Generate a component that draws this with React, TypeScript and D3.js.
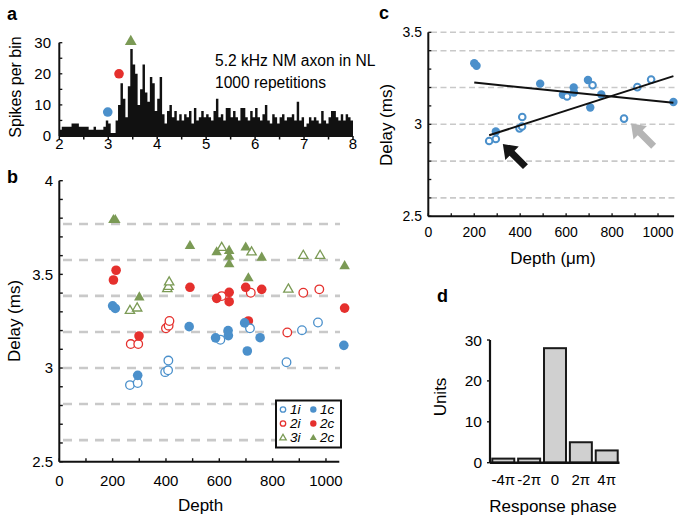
import React from "react";
import * as d3 from "d3";

// ---------- DATA ----------
// Panel a: PSTH, 0.05 ms bins from 2 to 8 ms
const binStart = 2;
const binWidth = 0.05;
const spikeCounts = [
  2, 3, 3, 3, 3, 4, 4, 4, 3, 3,
  3, 3, 2, 2, 3, 2, 2, 2, 3, 5,
  4, 1, 1, 5, 10, 17, 12, 6, 16, 28,
  23, 20, 10, 15, 23, 14, 11, 19, 17, 8,
  12, 19, 7, 4, 8, 10, 6, 8, 5, 7,
  5, 7, 6, 8, 4, 9, 5, 6, 8, 6,
  7, 6, 5, 8, 12, 6, 7, 5, 9, 9,
  6, 8, 6, 5, 9, 9, 6, 5, 8, 6,
  9, 6, 5, 7, 10, 5, 4, 7, 6, 4,
  6, 7, 5, 6, 6, 7, 5, 11, 5, 6,
  3, 4, 6, 5, 6, 5, 4, 8, 5, 4,
  6, 8, 8, 6, 5, 7, 5, 7, 6, 5,
];
const peakTimes = [2.99, 3.22, 3.46];
const peakHeights = [7.7, 20, 30.7];
const peakKinds = ["1", "2", "3"];
const aXTickLabels = [2, 3, 4, 5, 6, 7, 8];
const aYTickLabels = [0, 10, 20, 30];

// Panel b / c: delay vs depth
const blueFilledDepth = [200, 210, 294, 487, 586, 633, 634, 695, 705, 753, 1067];
const blueFilledDelay = [3.332, 3.318, 2.961, 3.221, 3.161, 3.2, 3.173, 3.241, 3.091, 3.162, 3.121];
const blueOpenDepth = [265, 294, 397, 408, 409, 604, 715, 852, 910, 970];
const blueOpenDelay = [2.909, 2.92, 2.978, 2.988, 3.04, 3.151, 3.212, 3.031, 3.202, 3.243];

const redFilledDepth = [203, 213, 299, 490, 590, 637, 637, 699, 709, 759, 1070];
const redFilledDelay = [3.47, 3.522, 3.171, 3.431, 3.372, 3.404, 3.354, 3.431, 3.251, 3.42, 3.32];
const redOpenDepth = [268, 296, 400, 410, 413, 609, 718, 855, 915, 975];
const redOpenDelay = [3.128, 3.128, 3.212, 3.226, 3.251, 3.384, 3.402, 3.19, 3.402, 3.42];

const greenFilledDepth = [203, 210, 300, 490, 590, 637, 637, 637, 699, 709, 759, 1070];
const greenFilledDelay = [3.79, 3.79, 3.377, 3.651, 3.618, 3.625, 3.594, 3.554, 3.643, 3.479, 3.589, 3.544];
const greenOpenDepth = [265, 292, 405, 409, 412, 609, 721, 859, 915, 978];
const greenOpenDelay = [3.306, 3.319, 3.422, 3.434, 3.458, 3.642, 3.618, 3.42, 3.6, 3.6];

const bGridDelays = [2.615, 2.808, 3.0, 3.192, 3.385, 3.577, 3.769];
const cGridDelays = [2.6, 2.8, 3.0, 3.2, 3.4, 3.5];
const depthTickLabels = [0, 200, 400, 600, 800, 1000];
const bYTickLabels = [2.5, 3, 3.5, 4];
const cYTickLabels = [2.5, 3, 3.5];

const legendRows = [
  { open: "1i", filled: "1c" },
  { open: "2i", filled: "2c" },
  { open: "3i", filled: "2c" },
];

// arrows in panel c point at two open-circle units
const arrowTargetDepth = [294, 852];
const arrowTargetDelay = [2.92, 3.031];

// Panel d
const phaseLabels = ["-4π", "-2π", "0", "2π", "4π"];
const phaseUnits = [1, 1, 28, 5, 3];
const dYTickLabels = [0, 10, 20, 30];

// ---------- STYLE ----------
const BLUE = "#4b90cb";
const RED = "#e5302d";
const GREEN = "#7b9a55";
const FONT = "'Liberation Sans', Arial, Helvetica, sans-serif";

const zip = (xs: number[], ys: number[]) => xs.map((x, i) => ({ x, y: ys[i] }));

function regression(xs: number[], ys: number[]) {
  const mx = d3.mean(xs)!;
  const my = d3.mean(ys)!;
  let sxy = 0, sxx = 0;
  xs.forEach((x, i) => {
    sxy += (x - mx) * (ys[i] - my);
    sxx += (x - mx) * (x - mx);
  });
  const b = sxy / sxx;
  return (x: number) => my + b * (x - mx);
}

function arrowPath(len: number, sw: number, hw: number, hl: number) {
  return `M0,${-sw / 2}L${len - hl},${-sw / 2}L${len - hl},${-hw / 2}L${len},0L${len - hl},${hw / 2}L${len - hl},${sw / 2}L0,${sw / 2}Z`;
}

const tri = (s: number) => d3.symbol(d3.symbolTriangle, s)()!;

function Marker({ kind, filled, cx, cy, color, small }: any) {
  if (kind === "tri") {
    return filled ? (
      <path d={tri(small ? 22 : 48)} transform={`translate(${cx},${cy})`} fill={color} />
    ) : (
      <path d={tri(small ? 18 : 38)} transform={`translate(${cx},${cy})`} fill="white" stroke={color} strokeWidth={1.3} />
    );
  }
  return filled ? (
    <circle cx={cx} cy={cy} r={small ? 3.2 : 4.8} fill={color} />
  ) : (
    <circle cx={cx} cy={cy} r={small ? 2.7 : 4.3} fill="white" stroke={color} strokeWidth={1.3} />
  );
}

export default function App() {
  // ----- Panel a scales -----
  const xA = d3.scaleLinear().domain([2, 8]).range([59.3, 353]);
  const yA = d3.scaleLinear().domain([0, 30]).range([136, 42.7]);
  const histPts = spikeCounts.map((v, i) => ({ t: binStart + i * binWidth, v }));
  histPts.push({ t: binStart + spikeCounts.length * binWidth, v: spikeCounts[spikeCounts.length - 1] });
  const histArea = d3
    .area<{ t: number; v: number }>()
    .x((d) => xA(d.t))
    .y0(yA(0))
    .y1((d) => yA(d.v))
    .curve(d3.curveStepAfter)(histPts)!;
  const peakColors = [BLUE, RED, GREEN];

  // ----- Panel b scales -----
  const xB = d3.scaleLinear().domain([0, 1050]).range([59.3, 339.3]);
  const yB = d3.scaleLinear().domain([2.5, 4]).range([461.7, 180.7]);

  // ----- Panel c scales -----
  const xC = d3.scaleLinear().domain([0, 1070]).range([428.3, 674.1]);
  const yC = d3.scaleLinear().domain([2.5, 3.5]).range([216.3, 32.3]);
  const fitFilled = regression(blueFilledDepth, blueFilledDelay);
  const fitOpen = regression(blueOpenDepth, blueOpenDelay);
  const maxDepth = d3.max([...blueFilledDepth, ...blueOpenDepth])!;
  const fitLines = [
    { f: fitFilled, x0: d3.min(blueFilledDepth)!, x1: maxDepth },
    { f: fitOpen, x0: d3.min(blueOpenDepth)!, x1: maxDepth },
  ];
  const arrowColors = ["#151515", "#b5b5b5"];

  // ----- Panel d scales -----
  const xD = d3.scaleBand<string>().domain(phaseLabels).range([491, 619]).paddingInner(0.15).paddingOuter(0.05);
  const yD = d3.scaleLinear().domain([0, 30]).range([462.7, 340]);

  const bSeries = [
    { data: zip(greenOpenDepth, greenOpenDelay), kind: "tri", filled: false, color: GREEN },
    { data: zip(greenFilledDepth, greenFilledDelay), kind: "tri", filled: true, color: GREEN },
    { data: zip(redOpenDepth, redOpenDelay), kind: "circ", filled: false, color: RED },
    { data: zip(redFilledDepth, redFilledDelay), kind: "circ", filled: true, color: RED },
    { data: zip(blueOpenDepth, blueOpenDelay), kind: "circ", filled: false, color: BLUE },
    { data: zip(blueFilledDepth, blueFilledDelay), kind: "circ", filled: true, color: BLUE },
  ];
  const legendColors = [BLUE, RED, GREEN];

  const fmt = (v: number) => String(v);

  return (
    <svg
      width={685}
      height={517}
      viewBox="0 0 685 517"
      style={{ position: "absolute", left: 0, top: 0, background: "white" }}
      fontFamily={FONT}
    >
      <rect x={0} y={0} width={685} height={517} fill="white" />

      {/* ================= Panel a ================= */}
      <text x={7} y={20} fontSize={18} fontWeight="bold">a</text>
      <path d={histArea} fill="#111" />
      <line x1={xA(2)} x2={xA(8)} y1={yA(0)} y2={yA(0)} stroke="#111" strokeWidth={2} />
      {d3.range(2, 8.001, 0.5).map((t) => (
        <line key={t} x1={xA(t)} x2={xA(t)} y1={yA(0)} y2={yA(0) + 3.5} stroke="#111" strokeWidth={1.5} />
      ))}
      {aXTickLabels.map((t) => (
        <text key={t} x={xA(t)} y={148.5} fontSize={15} textAnchor="middle">{t}</text>
      ))}
      <line x1={xA(2)} x2={xA(2)} y1={yA(0)} y2={yA(30)} stroke="#111" strokeWidth={2} />
      {d3.range(0, 30.001, 5).map((v) => (
        <line key={v} x1={xA(2)} x2={xA(2) + 3} y1={yA(v)} y2={yA(v)} stroke="#111" strokeWidth={1.3} />
      ))}
      {aYTickLabels.map((v) => (
        <text key={v} x={51} y={yA(v) + 5.3} fontSize={15} textAnchor="end">{v}</text>
      ))}
      <text transform={`translate(21,87) rotate(-90)`} fontSize={16} textAnchor="middle">Spikes per bin</text>
      {peakTimes.map((t, i) =>
        peakKinds[i] === "3" ? (
          <path key={i} d={tri(60)} transform={`translate(${xA(t)},${yA(peakHeights[i]) + 1})`} fill={peakColors[i]} />
        ) : (
          <circle key={i} cx={xA(t)} cy={yA(peakHeights[i])} r={4.8} fill={peakColors[i]} />
        )
      )}
      <text x={215} y={66} fontSize={15.6}>5.2 kHz NM axon in NL</text>
      <text x={215} y={88} fontSize={15.6}>1000 repetitions</text>

      {/* ================= Panel b ================= */}
      <text x={7} y={183} fontSize={18} fontWeight="bold">b</text>
      {bGridDelays.map((v) => (
        <line key={v} x1={63} x2={340} y1={yB(v)} y2={yB(v)} stroke="#c9c9c9" strokeWidth={2.6} strokeDasharray="9 7" />
      ))}
      <line x1={xB(0)} x2={xB(0)} y1={yB(2.5)} y2={yB(4)} stroke="#111" strokeWidth={2} />
      <line x1={xB(0)} x2={xB(1050)} y1={yB(2.5)} y2={yB(2.5)} stroke="#111" strokeWidth={2} />
      {d3.range(2.5, 4.0001, 0.1).map((v) => (
        <line key={v} x1={xB(0)} x2={xB(0) + 3.5} y1={yB(v)} y2={yB(v)} stroke="#111" strokeWidth={1.4} />
      ))}
      {d3.range(0, 1050.1, 100).map((v) => (
        <line key={v} x1={xB(v)} x2={xB(v)} y1={yB(2.5)} y2={yB(2.5) - 3.5} stroke="#111" strokeWidth={1.4} />
      ))}
      {bYTickLabels.map((v) => (
        <text key={v} x={53} y={yB(v) + 5.3} fontSize={15} textAnchor="end">{fmt(v)}</text>
      ))}
      {depthTickLabels.map((v) => (
        <text key={v} x={xB(v)} y={485.5} fontSize={15} textAnchor="middle">{v}</text>
      ))}
      <text transform={`translate(20,321) rotate(-90)`} fontSize={17} textAnchor="middle">Delay (ms)</text>
      <text x={xB(530)} y={511} fontSize={17} textAnchor="middle">Depth</text>
      {bSeries.map((s, si) =>
        s.data.map((d, i) => (
          <Marker key={`${si}-${i}`} kind={s.kind} filled={s.filled} color={s.color} cx={xB(d.x)} cy={yB(d.y)} />
        ))
      )}
      {/* legend */}
      <rect x={276} y={400.5} width={65} height={47} fill="white" stroke="#111" strokeWidth={2} />
      {legendRows.map((r, i) => {
        const cy = 409.5 + i * 14;
        return (
          <g key={i}>
            <Marker kind={i === 2 ? "tri" : "circ"} filled={false} color={legendColors[i]} cx={283} cy={cy + (i === 2 ? 0.5 : 0)} small />
            <text x={290} y={cy + 4.8} fontSize={13.5} fontStyle="italic">{r.open}</text>
            <Marker kind={i === 2 ? "tri" : "circ"} filled={true} color={legendColors[i]} cx={313.3} cy={cy + (i === 2 ? 0.5 : 0)} small />
            <text x={320} y={cy + 4.8} fontSize={13.5} fontStyle="italic">{r.filled}</text>
          </g>
        );
      })}

      {/* ================= Panel c ================= */}
      <text x={379} y={19} fontSize={18} fontWeight="bold">c</text>
      {cGridDelays.map((v) => (
        <line key={v} x1={431} x2={676} y1={yC(v)} y2={yC(v)} stroke="#c9c9c9" strokeWidth={1.6} strokeDasharray="6 3.5" />
      ))}
      <line x1={xC(0)} x2={xC(0)} y1={yC(2.5)} y2={yC(3.5)} stroke="#111" strokeWidth={2} />
      <line x1={xC(0)} x2={xC(1070)} y1={yC(2.5)} y2={yC(2.5)} stroke="#111" strokeWidth={2} />
      {d3.range(2.5, 3.5001, 0.1).map((v) => (
        <line key={v} x1={xC(0)} x2={xC(0) + 3} y1={yC(v)} y2={yC(v)} stroke="#111" strokeWidth={1.3} />
      ))}
      {d3.range(0, 1070.1, 100).map((v) => (
        <line key={v} x1={xC(v)} x2={xC(v)} y1={yC(2.5)} y2={yC(2.5) - 3} stroke="#111" strokeWidth={1.3} />
      ))}
      {cYTickLabels.map((v) => (
        <text key={v} x={422} y={yC(v) + 5} fontSize={14} textAnchor="end">{fmt(v)}</text>
      ))}
      {depthTickLabels.map((v) => (
        <text key={v} x={xC(v)} y={237} fontSize={14} textAnchor="middle">{v}</text>
      ))}
      <text transform={`translate(392,125) rotate(-90)`} fontSize={17} textAnchor="middle">Delay (ms)</text>
      <text x={553} y={264} fontSize={17} textAnchor="middle">Depth (μm)</text>
      {zip(blueFilledDepth, blueFilledDelay).map((d, i) => (
        <circle key={`cf${i}`} cx={xC(d.x)} cy={yC(d.y)} r={4.2} fill={BLUE} />
      ))}
      {zip(blueOpenDepth, blueOpenDelay).map((d, i) => (
        <circle key={`co${i}`} cx={xC(d.x)} cy={yC(d.y)} r={3.3} fill="white" stroke={BLUE} strokeWidth={2} />
      ))}
      {fitLines.map((l, i) => (
        <line key={i} x1={xC(l.x0)} x2={xC(l.x1)} y1={yC(l.f(l.x0))} y2={yC(l.f(l.x1))} stroke="#111" strokeWidth={2} />
      ))}
      {arrowTargetDepth.map((dep, i) => (
        <path
          key={i}
          d={arrowPath(32, 7, 19, 13)}
          fill={arrowColors[i]}
          transform={`translate(${xC(dep) + 7},${yC(arrowTargetDelay[i]) + 5}) rotate(-135) translate(-32,0)`}
        />
      ))}

      {/* ================= Panel d ================= */}
      <text x={437} y={302} fontSize={18} fontWeight="bold">d</text>
      {phaseLabels.map((p, i) => (
        <rect
          key={p}
          x={xD(p)}
          y={yD(phaseUnits[i])}
          width={xD.bandwidth()}
          height={yD(0) - yD(phaseUnits[i])}
          fill="#d0d0d0"
          stroke="#1a1a1a"
          strokeWidth={2}
        />
      ))}
      <line x1={490} x2={490} y1={yD(0)} y2={yD(30)} stroke="#111" strokeWidth={2.2} />
      <line x1={490} x2={619.5} y1={yD(0)} y2={yD(0)} stroke="#111" strokeWidth={2.4} />
      {dYTickLabels.map((v) => (
        <g key={v}>
          <line x1={487} x2={490} y1={yD(v)} y2={yD(v)} stroke="#111" strokeWidth={1.4} />
          <text x={482} y={yD(v) + 5.5} fontSize={15.5} textAnchor="end">{v}</text>
        </g>
      ))}
      {phaseLabels.map((p) => (
        <text key={p} x={xD(p)! + xD.bandwidth() / 2} y={484.5} fontSize={15} textAnchor="middle">{p}</text>
      ))}
      <text transform={`translate(446,397) rotate(-90)`} fontSize={17} textAnchor="middle">Units</text>
      <text x={553} y={512} fontSize={17} textAnchor="middle">Response phase</text>
    </svg>
  );
}
